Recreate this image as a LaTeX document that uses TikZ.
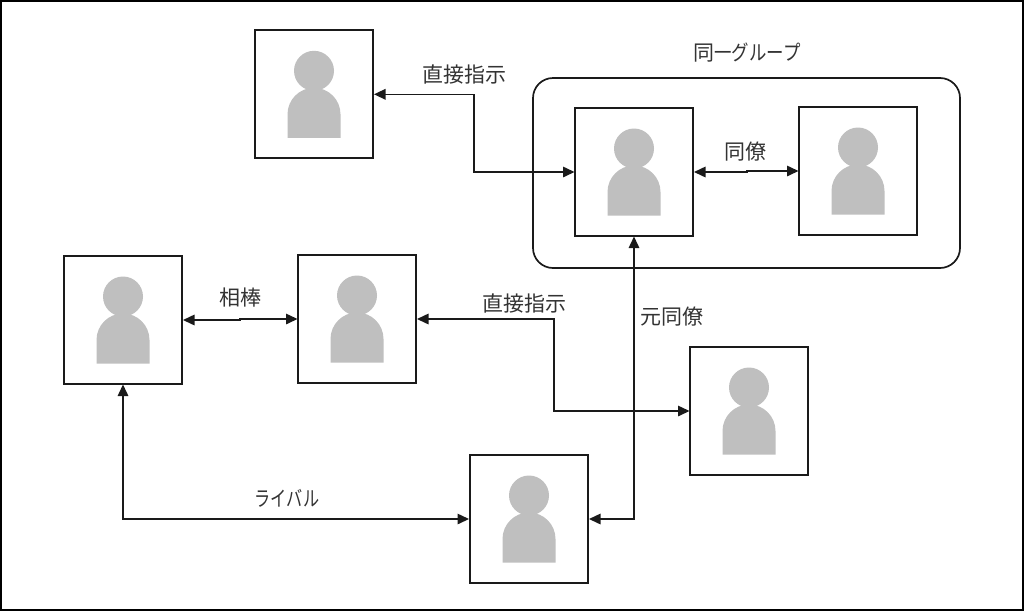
\documentclass[tikz,border=0pt]{standalone}
\usepackage{fontspec}
\setmainfont{Noto Sans CJK JP}
\usetikzlibrary{arrows.meta}
\definecolor{personfill}{HTML}{BFBFBF}
\definecolor{labelcol}{HTML}{333333}
\definecolor{linecol}{HTML}{1A1A1A}
\tikzset{
  x=1pt,y=-1pt,
  card/.style={draw=linecol,line width=1.9pt,minimum width=118pt,minimum height=128pt,inner sep=0pt,outer sep=0pt},
  group/.style={draw=linecol,line width=1.7pt,rounded corners=20pt,minimum width=427pt,minimum height=190pt,inner sep=0pt,outer sep=0pt},
  link/.style={draw=linecol,line width=1.5pt,{Triangle[length=11.5pt,width=10.5pt]}-{Triangle[length=11.5pt,width=10.5pt]},shorten <=1pt,shorten >=0.5pt},
  lbl/.style={font=\fontsize{21pt}{24pt}\selectfont,text=labelcol,inner sep=0pt},
  person/.pic={
    \fill[personfill] (0,-23.5) circle[radius=20pt];
    \fill[personfill] (-26.5,43.5) -- (-26.5,20) arc[start angle=180,end angle=0,radius=26.5pt] -- (26.5,43.5) -- cycle;
  }
}
\begin{document}
\begin{tikzpicture}
\useasboundingbox (0,0) rectangle (1024,611);
\draw[line width=1.8pt,black] (0.8,0.8) rectangle (1023.2,609.8);

\node[group] (grp) at (746.5,173) {};
\node[card] (a) at (314,94.3) {};
\node[card] (b) at (634,172) {};
\node[card] (c) at (858,171) {};
\node[card] (d) at (123,320) {};
\node[card] (e) at (357,319) {};
\node[card] (f) at (749,411) {};
\node[card] (g) at (529,519) {};
\foreach \n in {a,b,c,d,e,f,g} \pic at (\n) {person};

\coordinate (abm) at (474,130);
\coordinate (bcm) at (747,170);
\coordinate (dem) at (240,320);
\coordinate (efm) at (554,360);

\draw[link] (a.east) -| (abm) |- (b.west);
\draw[link] (b.east) -| (bcm) |- (c.west);
\draw[link] (d.east) -| (dem) |- (e.west);
\draw[link] (e.east) -| (efm) |- (f.west);
\draw[link] (g.east) -| (b.south);
\draw[link] (g.west) -| (d.south);

\node[lbl] (l1) at (464,74) {直接指示};
\node[lbl] (l2) at (747,53) {同\scalebox{0.83}[1]{一グループ}};
\node[lbl] (l3) at (745,152) {同僚};
\node[lbl] (l4) at (240,298) {相棒};
\node[lbl] (l5) at (524,303) {直接指示};
\node[lbl] (l6) at (672,317) {元同僚};
\node[lbl] (l7) at (287,498) {\scalebox{0.77}[1]{ライバル}};
\end{tikzpicture}
\end{document}
